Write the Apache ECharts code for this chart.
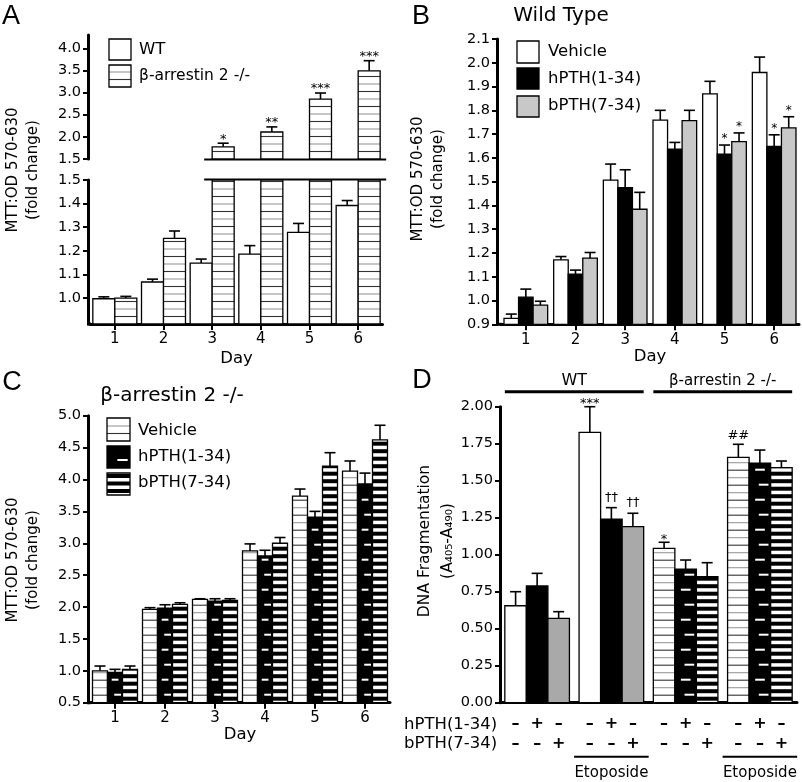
<!DOCTYPE html>
<html><head><meta charset="utf-8">
<script src="https://cdn.jsdelivr.net/npm/echarts@6/dist/echarts.min.js"></script>
<style>html,body{margin:0;padding:0;background:#fff}#c{width:802px;height:782px}</style>
</head><body><div id="c"></div>
<script>
// ---------------- DATA ----------------
const days = ['1', '2', '3', '4', '5', '6'];
// Panel A
const aWT      = [0.997, 1.068, 1.148, 1.186, 1.278, 1.392];
const aWTErr   = [1.005, 1.080, 1.165, 1.222, 1.316, 1.413];
const aBeta    = [1.000, 1.253, 1.775, 2.110, 2.850, 3.490];
const aBetaErr = [1.007, 1.284, 1.857, 2.225, 2.990, 3.720];
const aBetaMarks = ['', '', '*', '**', '***', '***'];
const aUpperTicks = [1.5, 2.0, 2.5, 3.0, 3.5, 4.0];
const aLowerTicks = [1.0, 1.1, 1.2, 1.3, 1.4, 1.5];
// Panel B (Wild Type)
const bVeh    = [0.925, 1.171, 1.506, 1.759, 1.869, 1.959];
const bVehErr = [0.943, 1.185, 1.574, 1.800, 1.922, 2.024];
const bH      = [1.014, 1.111, 1.475, 1.637, 1.616, 1.648];
const bHErr   = [1.048, 1.128, 1.550, 1.665, 1.654, 1.697];
const bB      = [0.981, 1.178, 1.384, 1.757, 1.668, 1.726];
const bBErr   = [0.997, 1.202, 1.455, 1.800, 1.705, 1.773];
const bHMarks = ['', '', '', '', '*', '*'];
const bBMarks = ['', '', '', '', '*', '*'];
// Panel C (beta-arrestin 2 -/-)
const cVeh    = [1.000, 1.964, 2.120, 2.880, 3.740, 4.130];
const cVehErr = [1.075, 1.990, 2.130, 2.990, 3.850, 4.290];
const cH      = [0.976, 1.984, 2.094, 2.800, 3.410, 3.930];
const cHErr   = [1.023, 2.036, 2.130, 2.890, 3.500, 4.100];
const cB      = [1.023, 2.042, 2.105, 3.000, 4.210, 4.620];
const cBErr   = [1.075, 2.067, 2.130, 3.090, 4.420, 4.850];
// Panel D (DNA fragmentation)
const dGroups = ['WT', 'WT Etoposide', 'β-arrestin 2 -/-', 'β-arrestin 2 -/- Etoposide'];
const dVeh    = [0.655, 1.827, 1.043, 1.658];
const dVehErr = [0.750, 2.000, 1.084, 1.746];
const dH      = [0.789, 1.241, 0.903, 1.618];
const dHErr   = [0.874, 1.318, 0.964, 1.707];
const dB      = [0.570, 1.190, 0.851, 1.588];
const dBErr   = [0.615, 1.280, 0.946, 1.633];
const dVehMarks = ['', '***', '*', '##'];
const dHMarks   = ['', '††', '', ''];
const dBMarks   = ['', '††', '', ''];
const hSigns = ['–', '+', '–'];
const bSigns = ['–', '–', '+'];
const etoGroups = [1, 3];

// ---------------- STYLE HELPERS ----------------
const FONT = 'DejaVu Sans';
function patternShapes(kind, x, y, w, h, anchor) {
  const fills = {white:'#fff', black:'#000', gray:'#c8c8c8', dgray:'#a9a9a9', lines:'#fff', dashes:'#000', thick:'#fff'};
  const out = [{type:'rect', shape:{x, y, width:w, height:h}, style:{fill: fills[kind], stroke:null, lineWidth:0}}];
  const yTop = y, yBot = y + h;
  if (kind === 'lines') {
    for (let k = 1; k < 200; k++) {
      const yy = anchor - k * 7.5;
      if (yy <= yTop + 1) break;
      if (yy >= yBot) continue;
      out.push({type:'line', shape:{x1:x, y1:yy, x2:x + w, y2:yy}, style:{stroke: k % 2 ? '#333' : '#999', lineWidth:1.1}});
    }
  } else if (kind === 'thick') {
    for (let k = 0; k < 200; k++) {
      const yb = anchor - 2 - k * 7.5, yt = yb - 4;
      if (yb <= yTop) break;
      const t = Math.max(yt, yTop), b = Math.min(yb, yBot);
      if (b > t) out.push({type:'rect', shape:{x, y:t, width:w, height:b - t}, style:{fill:'#000'}});
    }
  } else if (kind === 'dashes') {
    for (let k = 0; k < 200; k++) {
      const yy = anchor - 8 - k * 15;
      if (yy <= yTop + 2) break;
      if (yy >= yBot) continue;
      const off = (k % 2) ? 0.28 : 0.45;
      out.push({type:'line', shape:{x1:x + w * off, y1:yy, x2:x + w * (off + 0.45), y2:yy}, style:{stroke:'#fff', lineWidth:2}});
    }
  }
  return out;
}
function markGap(m, base) {
  if (m.indexOf('†') >= 0) return 10.5;
  if (m.indexOf('#') >= 0) return 9;
  return base;
}
function makeBars(cfg) {
  return {
    type:'custom', xAxisIndex:cfg.grid, yAxisIndex:cfg.grid, z:2, silent:true,
    data: cfg.vals.map((v, i) => [i, v, cfg.errs[i]]),
    renderItem(params, api) {
      const i = api.value(0), v = api.value(1), e = api.value(2);
      const cs = params.coordSys;
      const gTop = cs.y, bottom = cs.y + cs.height;
      const band = api.size([1, 0])[0];
      const w = band * cfg.frac;
      const p = api.coord([i, v]);
      if (p[1] >= bottom - 0.01) return null;
      const cx = p[0] + (cfg.sIdx - (cfg.nSer - 1) / 2) * w;
      const x0 = cx - w / 2;
      const clipped = p[1] < gTop;
      const yt = clipped ? gTop : p[1];
      const kind = Array.isArray(cfg.kinds) ? cfg.kinds[i] : cfg.kinds;
      const ch = patternShapes(kind, x0, yt, w, bottom - yt, bottom);
      ch.push({type:'rect', shape:{x:x0, y:yt, width:w, height:bottom - yt}, style:{fill:null, stroke:'#000', lineWidth:1.3}});
      if (!clipped) {
        const ey = api.coord([i, e])[1];
        ch.push({type:'line', shape:{x1:cx, y1:yt, x2:cx, y2:ey}, style:{stroke:'#000', lineWidth:1.6}});
        ch.push({type:'line', shape:{x1:cx - 5.5, y1:ey, x2:cx + 5.5, y2:ey}, style:{stroke:'#000', lineWidth:1.6}});
        const m = cfg.marks ? cfg.marks[i] : '';
        if (m) {
          ch.push({type:'text', x:cx, y:ey - markGap(m, cfg.gap), style:{text:m, fill:'#000', fontSize:cfg.markSize, fontFamily:FONT, align:'center', verticalAlign:'middle'}});
        }
      }
      return {type:'group', children:ch};
    }
  };
}
function xCat(grid, data, extra) {
  return Object.assign({
    type:'category', gridIndex:grid, data, boundaryGap:true,
    axisLine:{show:true, onZero:false, lineStyle:{color:'#000', width:3}},
    axisTick:{show:true, alignWithLabel:true, length:6, lineStyle:{color:'#000', width:2}},
    axisLabel:{show:true, color:'#000', fontSize:15, fontFamily:FONT, margin:8},
    splitLine:{show:false},
    nameTextStyle:{color:'#000', fontSize:16.5, fontFamily:FONT}
  }, extra || {});
}
function yVal(grid, min, max, dec, extra) {
  return Object.assign({
    type:'value', gridIndex:grid, min, max, scale:true,
    axisLine:{show:true, lineStyle:{color:'#000', width:3}},
    axisTick:{show:true, length:5, lineStyle:{color:'#000', width:2}},
    axisLabel:{show:true, color:'#000', fontSize:14.5, fontFamily:FONT, margin:7, formatter:v => (+v).toFixed(dec)},
    splitLine:{show:false}
  }, extra || {});
}

const chart = echarts.init(document.getElementById('c'), null, {width:802, height:782});
const option = {
  animation:false,
  backgroundColor:'#fff',
  grid:[
    {left:90.5, top:35, width:292, height:124},
    {left:90.5, top:180, width:292, height:144},
    {left:501, top:39, width:298, height:285.3},
    {left:90, top:415.7, width:300, height:287},
    {left:500, top:406.7, width:297, height:296}
  ],
  xAxis:[
    xCat(0, days, {show:false}),
    xCat(1, days, {name:'Day', nameLocation:'middle', nameGap:26}),
    xCat(2, days, {name:'Day', nameLocation:'middle', nameGap:23}),
    xCat(3, days, {name:'Day', nameLocation:'middle', nameGap:23}),
    xCat(4, dGroups, {axisTick:{show:false}, axisLabel:{show:false}})
  ],
  yAxis:[
    yVal(0, 1.5, 4.3, 1, {interval:0.5, offset:2.5,
      axisLabel:{show:true, color:'#000', fontSize:14.5, fontFamily:FONT, margin:7, formatter:v => (+v).toFixed(1), customValues:aUpperTicks},
      axisTick:{show:true, length:5, lineStyle:{color:'#000', width:2}, customValues:aUpperTicks}}),
    yVal(1, 0.89, 1.5, 1, {offset:2.5,
      axisLabel:{show:true, color:'#000', fontSize:14.5, fontFamily:FONT, margin:7, formatter:v => (+v).toFixed(1), customValues:aLowerTicks},
      axisTick:{show:true, length:5, lineStyle:{color:'#000', width:2}, customValues:aLowerTicks}}),
    yVal(2, 0.9, 2.1, 1, {interval:0.1, offset:4}),
    yVal(3, 0.5, 5.0, 1, {interval:0.5, offset:2}),
    yVal(4, 0, 2.0, 2, {interval:0.25})
  ],
  series:[
    makeBars({grid:1, vals:aWT, errs:aWTErr, sIdx:0, nSer:2, frac:0.452, kinds:'white'}),
    makeBars({grid:1, vals:aBeta, errs:aBetaErr, sIdx:1, nSer:2, frac:0.452, kinds:'lines'}),
    makeBars({grid:0, vals:aBeta, errs:aBetaErr, marks:aBetaMarks, sIdx:1, nSer:2, frac:0.452, kinds:'lines', markSize:13, gap:4}),
    makeBars({grid:2, vals:bVeh, errs:bVehErr, sIdx:0, nSer:3, frac:0.293, kinds:'white'}),
    makeBars({grid:2, vals:bH, errs:bHErr, marks:bHMarks, sIdx:1, nSer:3, frac:0.293, kinds:'black', markSize:12, gap:6}),
    makeBars({grid:2, vals:bB, errs:bBErr, marks:bBMarks, sIdx:2, nSer:3, frac:0.293, kinds:'gray', markSize:12, gap:6}),
    makeBars({grid:3, vals:cVeh, errs:cVehErr, sIdx:0, nSer:3, frac:0.3, kinds:'lines'}),
    makeBars({grid:3, vals:cH, errs:cHErr, sIdx:1, nSer:3, frac:0.3, kinds:'dashes'}),
    makeBars({grid:3, vals:cB, errs:cBErr, sIdx:2, nSer:3, frac:0.3, kinds:'thick'}),
    makeBars({grid:4, vals:dVeh, errs:dVehErr, marks:dVehMarks, sIdx:0, nSer:3, frac:0.29, kinds:['white','white','lines','lines'], markSize:13, gap:3}),
    makeBars({grid:4, vals:dH, errs:dHErr, marks:dHMarks, sIdx:1, nSer:3, frac:0.29, kinds:['black','black','dashes','dashes'], markSize:13, gap:3}),
    makeBars({grid:4, vals:dB, errs:dBErr, marks:dBMarks, sIdx:2, nSer:3, frac:0.29, kinds:['dgray','dgray','thick','thick'], markSize:13, gap:3})
  ]
};
chart.setOption(option);

// ---------------- DECORATION (positions from the axes) ----------------
function P(g, c, v) { return chart.convertToPixel({gridIndex:g}, [c, v]); }
function txt(x, y, text, size, extra, family) {
  return Object.assign({type:'text', x, y, silent:true, style:{text, fill:'#000', fontSize:size, fontFamily:family || FONT, align:'center', verticalAlign:'middle'}}, extra || {});
}
function ltxt(x, y, text, size) {
  return {type:'text', x, y, silent:true, style:{text, fill:'#000', fontSize:size, fontFamily:FONT, align:'left', verticalAlign:'middle'}};
}
function hline(x1, x2, y, lw) {
  return {type:'line', silent:true, shape:{x1, y1:y, x2, y2:y}, style:{stroke:'#000', lineWidth:lw}};
}
function legendBox(x, y, w, h, kind) {
  const ch = patternShapes(kind, x, y, w, h, y + h);
  ch.push({type:'rect', shape:{x, y, width:w, height:h}, style:{fill:null, stroke:'#000', lineWidth:1.3}});
  return {type:'group', silent:true, children:ch};
}
const g = [];
// panel letters
g.push(txt(11, 17, 'A', 27, null, 'Liberation Sans'));
g.push(txt(421, 17, 'B', 27, null, 'Liberation Sans'));
g.push(txt(12, 383, 'C', 27, null, 'Liberation Sans'));
g.push(txt(422, 381, 'D', 27, null, 'Liberation Sans'));
// titles
g.push(txt(561, 16, 'Wild Type', 20));
g.push(txt(172, 396, 'β-arrestin 2 -/-', 20));
// y-axis names (rotated)
const R = Math.PI / 2;
g.push(txt(13, 170, 'MTT:OD 570-630', 15, {rotation:R}));
g.push(txt(33, 170, '(fold change)', 15, {rotation:R}));
g.push(txt(418, 179, 'MTT:OD 570-630', 15, {rotation:R}));
g.push(txt(438, 179, '(fold change)', 15, {rotation:R}));
g.push(txt(13, 560, 'MTT:OD 570-630', 15, {rotation:R}));
g.push(txt(33, 560, '(fold change)', 15, {rotation:R}));
g.push(txt(425, 541, 'DNA Fragmentation', 15.5, {rotation:R}));
g.push(txt(448, 541, '(A₄₀₅-A₄₉₀)', 15.5, {rotation:R}));
// legends
g.push(legendBox(109, 39, 22, 21, 'white'));
g.push(legendBox(109, 65, 22, 22, 'lines'));
g.push(ltxt(139, 50, 'WT', 16.5));
g.push(ltxt(139, 76, 'β-arrestin 2 -/-', 15.5));
g.push(legendBox(517, 41, 22, 22, 'white'));
g.push(legendBox(517, 68, 22, 21, 'black'));
g.push(legendBox(517, 96, 22, 21, 'gray'));
g.push(ltxt(548, 52, 'Vehicle', 16.5));
g.push(ltxt(548, 79, 'hPTH(1-34)', 16.5));
g.push(ltxt(548, 106, 'bPTH(7-34)', 16.5));
g.push(legendBox(107, 418, 23, 23, 'lines'));
g.push(legendBox(107, 446, 23, 22, 'dashes'));
g.push(legendBox(107, 473, 23, 22, 'thick'));
g.push(ltxt(138, 431, 'Vehicle', 16.5));
g.push(ltxt(138, 457, 'hPTH(1-34)', 16.5));
g.push(ltxt(138, 483, 'bPTH(7-34)', 16.5));
// panel A axis break lines
const aUp = P(0, 2, 1.5), aLo = P(1, 2, 1.5);
const aRight = P(1, 5, 1.5)[0] + 28;
g.push(hline(aUp[0] - 8, aRight, aUp[1] + 0.5, 2));
g.push(hline(aLo[0] - 8, aRight, aLo[1] - 0.5, 2));
// x-axis fillers where the y axis is offset
const aAx = P(1, 0, 0.89);
g.push(hline(87, 91, aAx[1], 3));
const bAx = P(2, 0, 0.9);
g.push(hline(496, 502, bAx[1], 3));
const cAx = P(3, 0, 0.5);
g.push(hline(87, 91, cAx[1], 3));
// panel D header / footer
const d0 = P(4, 0, 0), d1 = P(4, 1, 0);
const band = d1[0] - d0[0], bw = band * 0.29;
const yBase = d0[1], yMax = P(4, 0, 2)[1];
const gc = i => P(4, i, 0)[0];
const lineY = yMax - 15;
g.push(hline(gc(0) - 1.5 * bw, gc(1) + 1.5 * bw, lineY, 3));
g.push(hline(gc(2) - 1.5 * bw, gc(3) + 1.5 * bw, lineY, 3));
g.push(txt((gc(0) + gc(1)) / 2, lineY - 11, 'WT', 16));
g.push(txt((gc(2) + gc(3)) / 2, lineY - 11, 'β-arrestin 2 -/-', 15));
g.push(ltxt(404, yBase + 21.6, 'hPTH(1-34)', 16.5));
g.push(ltxt(404, yBase + 41.5, 'bPTH(7-34)', 16.5));
function sign(x, y, s) {
  return {type:'text', x, y, silent:true, style:{text:s, fill:'#000', fontSize:16, fontFamily:FONT, fontWeight:'bold', align:'center', verticalAlign:'middle'}};
}
for (let i = 0; i < dGroups.length; i++) {
  for (let s = 0; s < 3; s++) {
    const x = gc(i) + (s - 1) * bw;
    g.push(sign(x, yBase + 21.6, hSigns[s]));
    g.push(sign(x, yBase + 41.5, bSigns[s]));
  }
}
etoGroups.forEach(i => {
  g.push(hline(gc(i) - 1.5 * bw - 5, gc(i) + 1.5 * bw + 5, yBase + 54, 2));
  g.push(txt(gc(i), yBase + 70.5, 'Etoposide', 15));
});
chart.setOption({graphic:{elements:g}});
</script>
</body></html>
